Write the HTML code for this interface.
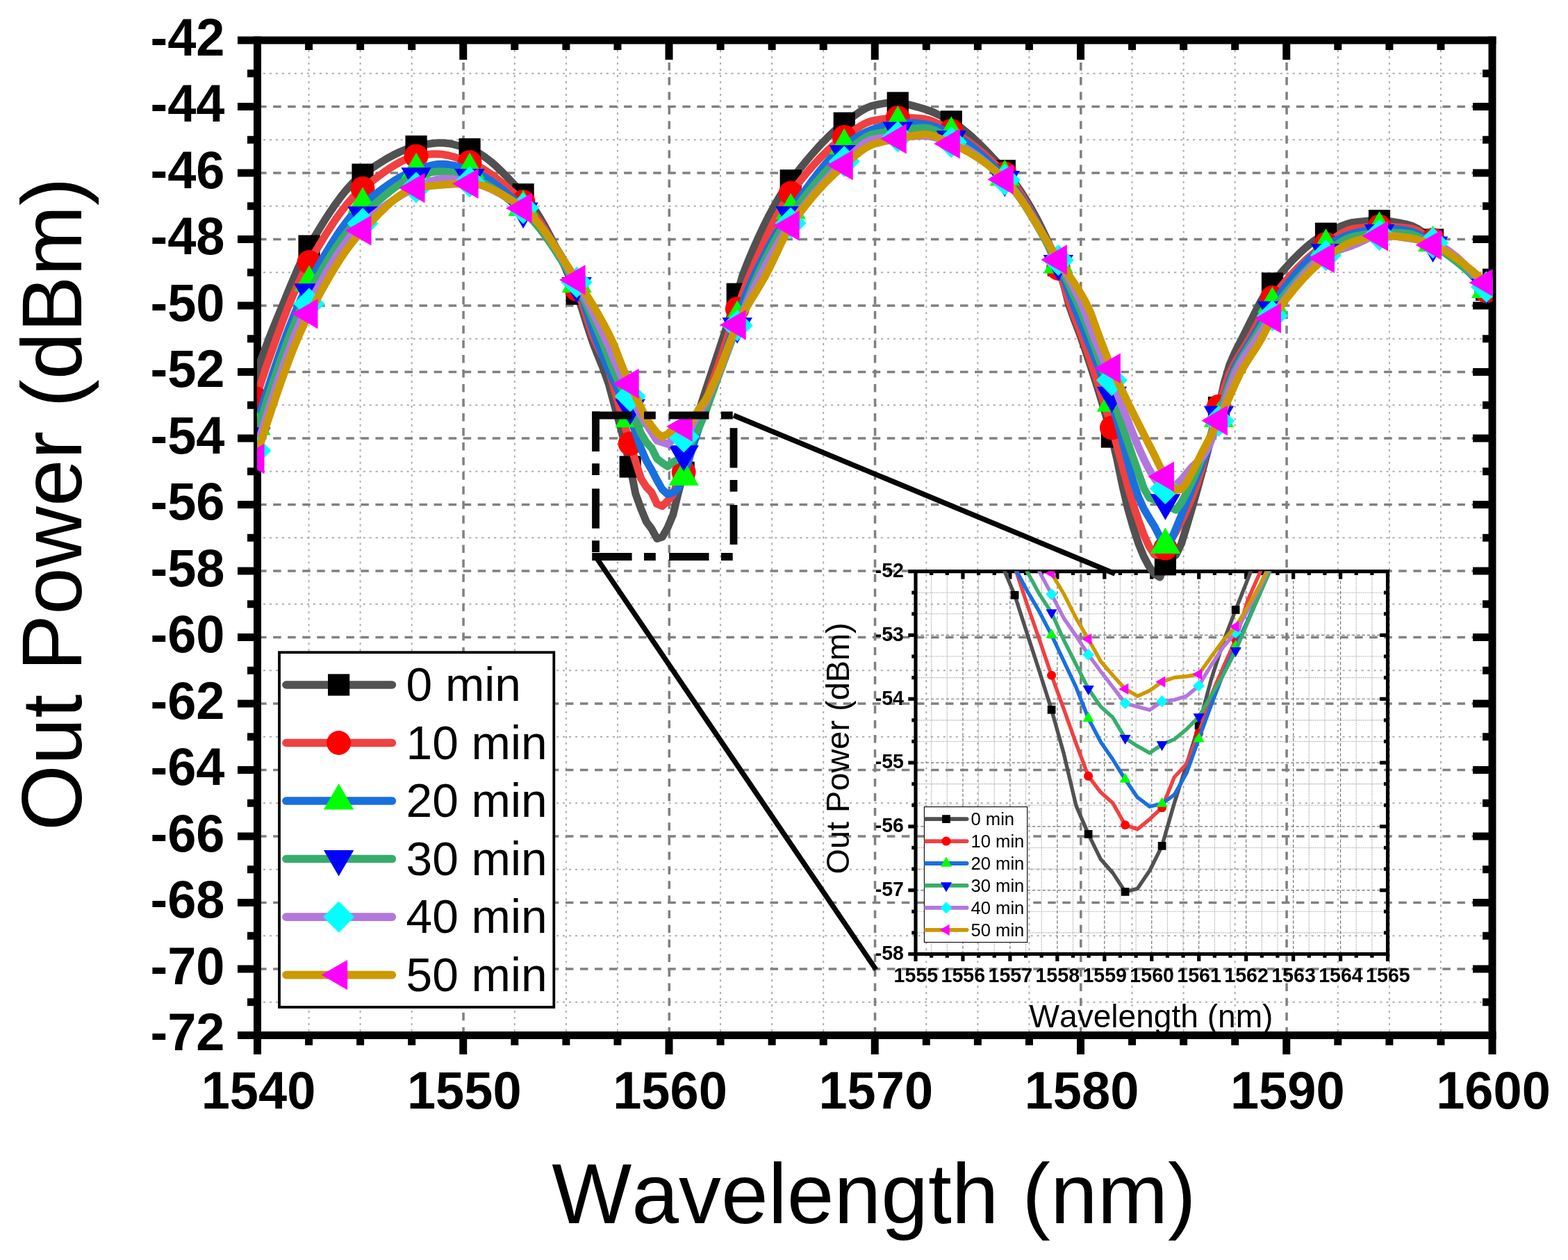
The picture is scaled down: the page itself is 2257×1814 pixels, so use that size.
<!DOCTYPE html>
<html lang="en">
<head>
<meta charset="utf-8">
<title>Out Power vs Wavelength</title>
<style>
html,body{margin:0;padding:0;background:#fff;}
body{width:2257px;height:1814px;overflow:hidden;}
svg{display:block;}
svg text{font-kerning:none;}
</style>
</head>
<body>
<svg xmlns="http://www.w3.org/2000/svg" width="2257" height="1814" viewBox="0 0 2257 1814" style="display:block">
<defs>
<clipPath id="cm"><rect x="370" y="58" width="1778.5" height="1432.5"/></clipPath>
<clipPath id="cl"><rect x="1330.4" y="1161.6" width="148.3" height="195"/></clipPath>
<clipPath id="ci"><rect x="1318" y="822.6" width="679.5" height="550.9"/></clipPath>
</defs>
<rect width="2257" height="1814" fill="#fff"/>
<g id="main-grid" fill="none">
<g stroke="#adadad" stroke-width="2" stroke-dasharray="3.1 5.88">
<path d="M370 1442.75H2148"/>
<path d="M370 1347.25H2148"/>
<path d="M370 1251.75H2148"/>
<path d="M370 1156.25H2148"/>
<path d="M370 1060.75H2148"/>
<path d="M370 965.25H2148"/>
<path d="M370 869.75H2148"/>
<path d="M370 774.25H2148"/>
<path d="M370 678.75H2148"/>
<path d="M370 583.25H2148"/>
<path d="M370 487.75H2148"/>
<path d="M370 392.25H2148"/>
<path d="M370 296.75H2148"/>
<path d="M370 201.25H2148"/>
<path d="M370 105.75H2148"/>
<path d="M444.56 58V1490.5" stroke-dashoffset="3.9"/>
<path d="M518.62 58V1490.5" stroke-dashoffset="3.9"/>
<path d="M592.69 58V1490.5" stroke-dashoffset="3.9"/>
<path d="M740.81 58V1490.5" stroke-dashoffset="3.9"/>
<path d="M814.88 58V1490.5" stroke-dashoffset="3.9"/>
<path d="M888.94 58V1490.5" stroke-dashoffset="3.9"/>
<path d="M1037.06 58V1490.5" stroke-dashoffset="3.9"/>
<path d="M1111.12 58V1490.5" stroke-dashoffset="3.9"/>
<path d="M1185.19 58V1490.5" stroke-dashoffset="3.9"/>
<path d="M1333.31 58V1490.5" stroke-dashoffset="3.9"/>
<path d="M1407.38 58V1490.5" stroke-dashoffset="3.9"/>
<path d="M1481.44 58V1490.5" stroke-dashoffset="3.9"/>
<path d="M1629.56 58V1490.5" stroke-dashoffset="3.9"/>
<path d="M1703.62 58V1490.5" stroke-dashoffset="3.9"/>
<path d="M1777.69 58V1490.5" stroke-dashoffset="3.9"/>
<path d="M1925.81 58V1490.5" stroke-dashoffset="3.9"/>
<path d="M1999.88 58V1490.5" stroke-dashoffset="3.9"/>
<path d="M2073.94 58V1490.5" stroke-dashoffset="3.9"/>
</g>
<g stroke="#808080" stroke-width="3.5" stroke-dasharray="11.5 9.54">
<path d="M351.06 1395H2148"/>
<path d="M351.06 1299.5H2148"/>
<path d="M351.06 1204H2148"/>
<path d="M351.06 1108.5H2148"/>
<path d="M351.06 1013H2148"/>
<path d="M351.06 917.5H2148"/>
<path d="M351.06 822H2148"/>
<path d="M351.06 726.5H2148"/>
<path d="M351.06 631H2148"/>
<path d="M351.06 535.5H2148"/>
<path d="M351.06 440H2148"/>
<path d="M351.06 344.5H2148"/>
<path d="M351.06 249H2148"/>
<path d="M351.06 153.5H2148"/>
<path d="M667.05 58V1490.5" stroke-dashoffset="10"/>
<path d="M963.3 58V1490.5" stroke-dashoffset="10"/>
<path d="M1259.55 58V1490.5" stroke-dashoffset="10"/>
<path d="M1555.8 58V1490.5" stroke-dashoffset="10"/>
<path d="M1852.05 58V1490.5" stroke-dashoffset="10"/>
</g>
</g>
<g id="main-axes" stroke="#000" stroke-width="11" fill="none">
<path d="M342 58H2153.5"/>
<path d="M342 1490.5H2153.5"/>
<path d="M370.5 52.5V1518"/>
<path d="M2148 52.5V1518"/>
<path d="M356 1442.75H370.5"/>
<path d="M2134 1442.75H2148"/>
<path d="M342 1395H370.5"/>
<path d="M2120 1395H2148"/>
<path d="M356 1347.25H370.5"/>
<path d="M2134 1347.25H2148"/>
<path d="M342 1299.5H370.5"/>
<path d="M2120 1299.5H2148"/>
<path d="M356 1251.75H370.5"/>
<path d="M2134 1251.75H2148"/>
<path d="M342 1204H370.5"/>
<path d="M2120 1204H2148"/>
<path d="M356 1156.25H370.5"/>
<path d="M2134 1156.25H2148"/>
<path d="M342 1108.5H370.5"/>
<path d="M2120 1108.5H2148"/>
<path d="M356 1060.75H370.5"/>
<path d="M2134 1060.75H2148"/>
<path d="M342 1013H370.5"/>
<path d="M2120 1013H2148"/>
<path d="M356 965.25H370.5"/>
<path d="M2134 965.25H2148"/>
<path d="M342 917.5H370.5"/>
<path d="M2120 917.5H2148"/>
<path d="M356 869.75H370.5"/>
<path d="M2134 869.75H2148"/>
<path d="M342 822H370.5"/>
<path d="M2120 822H2148"/>
<path d="M356 774.25H370.5"/>
<path d="M2134 774.25H2148"/>
<path d="M342 726.5H370.5"/>
<path d="M2120 726.5H2148"/>
<path d="M356 678.75H370.5"/>
<path d="M2134 678.75H2148"/>
<path d="M342 631H370.5"/>
<path d="M2120 631H2148"/>
<path d="M356 583.25H370.5"/>
<path d="M2134 583.25H2148"/>
<path d="M342 535.5H370.5"/>
<path d="M2120 535.5H2148"/>
<path d="M356 487.75H370.5"/>
<path d="M2134 487.75H2148"/>
<path d="M342 440H370.5"/>
<path d="M2120 440H2148"/>
<path d="M356 392.25H370.5"/>
<path d="M2134 392.25H2148"/>
<path d="M342 344.5H370.5"/>
<path d="M2120 344.5H2148"/>
<path d="M356 296.75H370.5"/>
<path d="M2134 296.75H2148"/>
<path d="M342 249H370.5"/>
<path d="M2120 249H2148"/>
<path d="M356 201.25H370.5"/>
<path d="M2134 201.25H2148"/>
<path d="M342 153.5H370.5"/>
<path d="M2120 153.5H2148"/>
<path d="M356 105.75H370.5"/>
<path d="M2134 105.75H2148"/>
<path d="M444.56 58V72"/>
<path d="M444.56 1490.5V1504.8"/>
<path d="M518.62 58V72"/>
<path d="M518.62 1490.5V1504.8"/>
<path d="M592.69 58V72"/>
<path d="M592.69 1490.5V1504.8"/>
<path d="M666.75 58V86"/>
<path d="M666.75 1490.5V1518"/>
<path d="M740.81 58V72"/>
<path d="M740.81 1490.5V1504.8"/>
<path d="M814.88 58V72"/>
<path d="M814.88 1490.5V1504.8"/>
<path d="M888.94 58V72"/>
<path d="M888.94 1490.5V1504.8"/>
<path d="M963 58V86"/>
<path d="M963 1490.5V1518"/>
<path d="M1037.06 58V72"/>
<path d="M1037.06 1490.5V1504.8"/>
<path d="M1111.12 58V72"/>
<path d="M1111.12 1490.5V1504.8"/>
<path d="M1185.19 58V72"/>
<path d="M1185.19 1490.5V1504.8"/>
<path d="M1259.25 58V86"/>
<path d="M1259.25 1490.5V1518"/>
<path d="M1333.31 58V72"/>
<path d="M1333.31 1490.5V1504.8"/>
<path d="M1407.38 58V72"/>
<path d="M1407.38 1490.5V1504.8"/>
<path d="M1481.44 58V72"/>
<path d="M1481.44 1490.5V1504.8"/>
<path d="M1555.5 58V86"/>
<path d="M1555.5 1490.5V1518"/>
<path d="M1629.56 58V72"/>
<path d="M1629.56 1490.5V1504.8"/>
<path d="M1703.62 58V72"/>
<path d="M1703.62 1490.5V1504.8"/>
<path d="M1777.69 58V72"/>
<path d="M1777.69 1490.5V1504.8"/>
<path d="M1851.75 58V86"/>
<path d="M1851.75 1490.5V1518"/>
<path d="M1925.81 58V72"/>
<path d="M1925.81 1490.5V1504.8"/>
<path d="M1999.88 58V72"/>
<path d="M1999.88 1490.5V1504.8"/>
<path d="M2073.94 58V72"/>
<path d="M2073.94 1490.5V1504.8"/>
</g>
<g id="main-labels" font-family="'Liberation Sans', Arial, Helvetica, sans-serif" fill="#000">
<g font-weight="bold" font-size="74" text-anchor="end">
<text transform="translate(323.5 79.6) scale(1 1.035)">-42</text>
<text transform="translate(323.5 175.1) scale(1 1.035)">-44</text>
<text transform="translate(323.5 270.6) scale(1 1.035)">-46</text>
<text transform="translate(323.5 366.1) scale(1 1.035)">-48</text>
<text transform="translate(323.5 461.6) scale(1 1.035)">-50</text>
<text transform="translate(323.5 557.1) scale(1 1.035)">-52</text>
<text transform="translate(323.5 652.6) scale(1 1.035)">-54</text>
<text transform="translate(323.5 748.1) scale(1 1.035)">-56</text>
<text transform="translate(323.5 843.6) scale(1 1.035)">-58</text>
<text transform="translate(323.5 939.1) scale(1 1.035)">-60</text>
<text transform="translate(323.5 1034.6) scale(1 1.035)">-62</text>
<text transform="translate(323.5 1130.1) scale(1 1.035)">-64</text>
<text transform="translate(323.5 1225.6) scale(1 1.035)">-66</text>
<text transform="translate(323.5 1321.1) scale(1 1.035)">-68</text>
<text transform="translate(323.5 1416.6) scale(1 1.035)">-70</text>
<text transform="translate(323.5 1512.1) scale(1 1.035)">-72</text>
</g>
<g font-weight="bold" font-size="74" text-anchor="middle">
<text transform="translate(372 1595.5) scale(1 1.035)">1540</text>
<text transform="translate(668.25 1595.5) scale(1 1.035)">1550</text>
<text transform="translate(964.5 1595.5) scale(1 1.035)">1560</text>
<text transform="translate(1260.75 1595.5) scale(1 1.035)">1570</text>
<text transform="translate(1557 1595.5) scale(1 1.035)">1580</text>
<text transform="translate(1853.25 1595.5) scale(1 1.035)">1590</text>
<text transform="translate(2149.5 1595.5) scale(1 1.035)">1600</text>
</g>
<text x="1258" y="1760.7" font-size="121.8" text-anchor="middle">Wavelength (nm)</text>
<text transform="translate(117.2 725.7) rotate(-90)" font-size="121.8" text-anchor="middle">Out Power (dBm)</text>
</g>
<g id="inset">
<g fill="none">
<g stroke="#9a9a9a" stroke-width="1.1" stroke-dasharray="1.25 1.4">
<path d="M1318 853.21H1997.5"/>
<path d="M1318 883.81H1997.5"/>
<path d="M1318 945.02H1997.5"/>
<path d="M1318 975.63H1997.5"/>
<path d="M1318 1036.84H1997.5"/>
<path d="M1318 1067.44H1997.5"/>
<path d="M1318 1128.66H1997.5"/>
<path d="M1318 1159.26H1997.5"/>
<path d="M1318 1220.47H1997.5"/>
<path d="M1318 1251.08H1997.5"/>
<path d="M1318 1312.29H1997.5"/>
<path d="M1318 1342.89H1997.5"/>
<path d="M1340.65 1373.5V822.6"/>
<path d="M1363.3 1373.5V822.6"/>
<path d="M1408.6 1373.5V822.6"/>
<path d="M1431.25 1373.5V822.6"/>
<path d="M1476.55 1373.5V822.6"/>
<path d="M1499.2 1373.5V822.6"/>
<path d="M1544.5 1373.5V822.6"/>
<path d="M1567.15 1373.5V822.6"/>
<path d="M1612.45 1373.5V822.6"/>
<path d="M1635.1 1373.5V822.6"/>
<path d="M1680.4 1373.5V822.6"/>
<path d="M1703.05 1373.5V822.6"/>
<path d="M1748.35 1373.5V822.6"/>
<path d="M1771 1373.5V822.6"/>
<path d="M1816.3 1373.5V822.6"/>
<path d="M1838.95 1373.5V822.6"/>
<path d="M1884.25 1373.5V822.6"/>
<path d="M1906.9 1373.5V822.6"/>
<path d="M1952.2 1373.5V822.6"/>
<path d="M1974.85 1373.5V822.6"/>
</g>
<g stroke="#707070" stroke-width="1.15" stroke-dasharray="4.4 2.9">
<path d="M1318 1281.68H1997.5"/>
<path d="M1318 1189.87H1997.5"/>
<path d="M1318 1098.05H1997.5"/>
<path d="M1318 1006.23H1997.5"/>
<path d="M1318 914.42H1997.5"/>
<path d="M1385.95 1373.5V822.6"/>
<path d="M1453.9 1373.5V822.6"/>
<path d="M1521.85 1373.5V822.6"/>
<path d="M1589.8 1373.5V822.6"/>
<path d="M1657.75 1373.5V822.6"/>
<path d="M1725.7 1373.5V822.6"/>
<path d="M1793.65 1373.5V822.6"/>
<path d="M1861.6 1373.5V822.6"/>
<path d="M1929.55 1373.5V822.6"/>
</g>
</g>
<g stroke="#000" stroke-width="5.2" fill="none">
<path d="M1307.3 822.6H2000.1"/>
<path d="M1307.3 1373.5H2000.1"/>
<path d="M1318 820V1383.9"/>
<path d="M1997.5 820V1383.9"/>
<path d="M1312.3 853.21H1318"/>
<path d="M1991.9 853.21H1997.5"/>
<path d="M1312.3 883.81H1318"/>
<path d="M1991.9 883.81H1997.5"/>
<path d="M1307.3 914.42H1318"/>
<path d="M1986 914.42H1997.5"/>
<path d="M1312.3 945.02H1318"/>
<path d="M1991.9 945.02H1997.5"/>
<path d="M1312.3 975.63H1318"/>
<path d="M1991.9 975.63H1997.5"/>
<path d="M1307.3 1006.23H1318"/>
<path d="M1986 1006.23H1997.5"/>
<path d="M1312.3 1036.84H1318"/>
<path d="M1991.9 1036.84H1997.5"/>
<path d="M1312.3 1067.44H1318"/>
<path d="M1991.9 1067.44H1997.5"/>
<path d="M1307.3 1098.05H1318"/>
<path d="M1986 1098.05H1997.5"/>
<path d="M1312.3 1128.66H1318"/>
<path d="M1991.9 1128.66H1997.5"/>
<path d="M1312.3 1159.26H1318"/>
<path d="M1991.9 1159.26H1997.5"/>
<path d="M1307.3 1189.87H1318"/>
<path d="M1986 1189.87H1997.5"/>
<path d="M1312.3 1220.47H1318"/>
<path d="M1991.9 1220.47H1997.5"/>
<path d="M1312.3 1251.08H1318"/>
<path d="M1991.9 1251.08H1997.5"/>
<path d="M1307.3 1281.68H1318"/>
<path d="M1986 1281.68H1997.5"/>
<path d="M1312.3 1312.29H1318"/>
<path d="M1991.9 1312.29H1997.5"/>
<path d="M1312.3 1342.89H1318"/>
<path d="M1991.9 1342.89H1997.5"/>
<path d="M1340.65 822.6V828"/>
<path d="M1340.65 1373.5V1378.8"/>
<path d="M1363.3 822.6V828"/>
<path d="M1363.3 1373.5V1378.8"/>
<path d="M1385.95 822.6V833.7"/>
<path d="M1385.95 1373.5V1383.9"/>
<path d="M1408.6 822.6V828"/>
<path d="M1408.6 1373.5V1378.8"/>
<path d="M1431.25 822.6V828"/>
<path d="M1431.25 1373.5V1378.8"/>
<path d="M1453.9 822.6V833.7"/>
<path d="M1453.9 1373.5V1383.9"/>
<path d="M1476.55 822.6V828"/>
<path d="M1476.55 1373.5V1378.8"/>
<path d="M1499.2 822.6V828"/>
<path d="M1499.2 1373.5V1378.8"/>
<path d="M1521.85 822.6V833.7"/>
<path d="M1521.85 1373.5V1383.9"/>
<path d="M1544.5 822.6V828"/>
<path d="M1544.5 1373.5V1378.8"/>
<path d="M1567.15 822.6V828"/>
<path d="M1567.15 1373.5V1378.8"/>
<path d="M1589.8 822.6V833.7"/>
<path d="M1589.8 1373.5V1383.9"/>
<path d="M1612.45 822.6V828"/>
<path d="M1612.45 1373.5V1378.8"/>
<path d="M1635.1 822.6V828"/>
<path d="M1635.1 1373.5V1378.8"/>
<path d="M1657.75 822.6V833.7"/>
<path d="M1657.75 1373.5V1383.9"/>
<path d="M1680.4 822.6V828"/>
<path d="M1680.4 1373.5V1378.8"/>
<path d="M1703.05 822.6V828"/>
<path d="M1703.05 1373.5V1378.8"/>
<path d="M1725.7 822.6V833.7"/>
<path d="M1725.7 1373.5V1383.9"/>
<path d="M1748.35 822.6V828"/>
<path d="M1748.35 1373.5V1378.8"/>
<path d="M1771 822.6V828"/>
<path d="M1771 1373.5V1378.8"/>
<path d="M1793.65 822.6V833.7"/>
<path d="M1793.65 1373.5V1383.9"/>
<path d="M1816.3 822.6V828"/>
<path d="M1816.3 1373.5V1378.8"/>
<path d="M1838.95 822.6V828"/>
<path d="M1838.95 1373.5V1378.8"/>
<path d="M1861.6 822.6V833.7"/>
<path d="M1861.6 1373.5V1383.9"/>
<path d="M1884.25 822.6V828"/>
<path d="M1884.25 1373.5V1378.8"/>
<path d="M1906.9 822.6V828"/>
<path d="M1906.9 1373.5V1378.8"/>
<path d="M1929.55 822.6V833.7"/>
<path d="M1929.55 1373.5V1383.9"/>
<path d="M1952.2 822.6V828"/>
<path d="M1952.2 1373.5V1378.8"/>
<path d="M1974.85 822.6V828"/>
<path d="M1974.85 1373.5V1378.8"/>
</g>
<g clip-path="url(#ci)">
<polyline points="1266.26,445.37 1283.93,474.86 1301.59,505.98 1319.26,538.48 1336.93,572.12 1354.59,606.66 1372.26,648.12 1389.93,696.05 1407.6,740.58 1425.26,778.34 1442.93,815.01 1460.6,856.76 1478.26,911.66 1495.93,965.83 1513.6,1021.84 1531.26,1085.1 1548.93,1159.93 1566.6,1200.88 1584.27,1236.88 1601.93,1256.89 1619.6,1283.89 1637.27,1279.3 1654.93,1253.22 1672.6,1217.87 1690.27,1156.35 1707.93,1100.8 1725.6,1044.52 1743.27,978.6 1760.94,924.06 1778.6,877.97 1796.27,833.16 1813.94,788.35 1831.6,743.73 1849.27,698.86 1866.94,653.32 1884.6,606.66 1902.27,554.93 1919.94,517.22 1937.61,482 1955.27,448.59 1972.94,417.12 1990.61,387.67 2008.27,360.35 2025.94,335.28 2043.61,312.55" fill="none" stroke="#515151" stroke-width="5.4" stroke-linejoin="round"/>
<rect x="1454.75" y="850.91" width="11.7" height="11.7" fill="#000000"/>
<rect x="1507.75" y="1015.99" width="11.7" height="11.7" fill="#000000"/>
<rect x="1560.75" y="1195.03" width="11.7" height="11.7" fill="#000000"/>
<rect x="1613.75" y="1278.04" width="11.7" height="11.7" fill="#000000"/>
<rect x="1666.75" y="1212.02" width="11.7" height="11.7" fill="#000000"/>
<rect x="1719.75" y="1038.67" width="11.7" height="11.7" fill="#000000"/>
<rect x="1772.75" y="872.12" width="11.7" height="11.7" fill="#000000"/>
<polyline points="1266.26,450.86 1283.93,476.67 1301.59,504.04 1319.26,532.77 1336.93,562.69 1354.59,593.59 1372.26,631.98 1389.93,678.1 1407.6,722.38 1425.26,755.91 1442.93,782.7 1460.6,816.17 1478.26,869.52 1495.93,920.38 1513.6,972.26 1531.26,1020.92 1548.93,1070.51 1566.6,1117.33 1584.27,1140.56 1601.93,1156.35 1619.6,1187.75 1637.27,1193.91 1654.93,1179.31 1672.6,1162.78 1690.27,1118.98 1707.93,1099.7 1725.6,1055.81 1743.27,1001.64 1760.94,960.33 1778.6,920.84 1796.27,863.46 1813.94,823.52 1831.6,780.16 1849.27,735.53 1866.94,691.01 1884.6,648 1902.27,606.12 1919.94,566.36 1937.61,531.35 1955.27,497.48 1972.94,464.26 1990.61,432.24 2008.27,401.99 2025.94,374.07 2043.61,349.04" fill="none" stroke="#F14040" stroke-width="5.4" stroke-linejoin="round"/>
<circle cx="1513.6" cy="972.26" r="6.52" fill="#FF0000"/>
<circle cx="1566.6" cy="1117.33" r="6.52" fill="#FF0000"/>
<circle cx="1619.6" cy="1187.75" r="6.52" fill="#FF0000"/>
<circle cx="1672.6" cy="1162.78" r="6.52" fill="#FF0000"/>
<circle cx="1725.6" cy="1055.81" r="6.52" fill="#FF0000"/>
<circle cx="1778.6" cy="920.84" r="6.52" fill="#FF0000"/>
<polyline points="1266.26,452.44 1283.93,474.7 1301.59,498.54 1319.26,523.9 1336.93,550.73 1354.59,578.97 1372.26,614.99 1389.93,659.9 1407.6,705.82 1425.26,745.67 1442.93,782.15 1460.6,816.95 1478.26,850.14 1495.93,880.44 1513.6,914.14 1531.26,951.88 1548.93,989.43 1566.6,1034.24 1584.27,1068.12 1601.93,1093.55 1619.6,1122.11 1637.27,1147.91 1654.93,1161.22 1672.6,1157.18 1690.27,1144.23 1707.93,1113.02 1725.6,1063.89 1743.27,1015.42 1760.94,969.51 1778.6,930.67 1796.27,892.56 1813.94,851.34 1831.6,806.79 1849.27,760.49 1866.94,714.84 1884.6,672.23 1902.27,632.62 1919.94,595.14 1937.61,560.95 1955.27,530.56 1972.94,501.44 1990.61,473.39 2008.27,446.59 2025.94,421.25 2043.61,397.56" fill="none" stroke="#1A6FDF" stroke-width="5.4" stroke-linejoin="round"/>
<polygon points="1513.6,904.77 1505.46,918.83 1521.73,918.83" fill="#00FF00"/>
<polygon points="1566.6,1024.86 1558.46,1038.92 1574.74,1038.92" fill="#00FF00"/>
<polygon points="1619.6,1112.73 1611.46,1126.79 1627.74,1126.79" fill="#00FF00"/>
<polygon points="1672.6,1147.8 1664.46,1161.87 1680.74,1161.87" fill="#00FF00"/>
<polygon points="1725.6,1054.52 1717.46,1068.58 1733.74,1068.58" fill="#00FF00"/>
<polygon points="1778.6,921.29 1770.46,935.36 1786.74,935.36" fill="#00FF00"/>
<polyline points="1266.26,464.61 1283.93,486.9 1301.59,510.25 1319.26,534.4 1336.93,559.12 1354.59,584.17 1372.26,611.49 1389.93,642.43 1407.6,675.85 1425.26,710.57 1442.93,746.05 1460.6,784.94 1478.26,822.6 1495.93,855.01 1513.6,881.91 1531.26,921.58 1548.93,956.74 1566.6,991.63 1584.27,1017.25 1601.93,1033.04 1619.6,1062.7 1637.27,1074.18 1654.93,1084.09 1672.6,1071.79 1690.27,1064.54 1707.93,1049.94 1725.6,1032.03 1743.27,1001.64 1760.94,971.34 1778.6,936.73 1796.27,894.95 1813.94,853.82 1831.6,813.71 1849.27,773.99 1866.94,734.79 1884.6,696.27 1902.27,657.6 1919.94,618.97 1937.61,582.03 1955.27,548.42 1972.94,517.7 1990.61,488.12 2008.27,460.03 2025.94,433.79 2043.61,409.73" fill="none" stroke="#37AD6B" stroke-width="5.4" stroke-linejoin="round"/>
<polygon points="1513.6,891.29 1505.46,877.23 1521.73,877.23" fill="#0000FF"/>
<polygon points="1566.6,1001.01 1558.46,986.95 1574.74,986.95" fill="#0000FF"/>
<polygon points="1619.6,1072.08 1611.46,1058.01 1627.74,1058.01" fill="#0000FF"/>
<polygon points="1672.6,1081.17 1664.46,1067.1 1680.74,1067.1" fill="#0000FF"/>
<polygon points="1725.6,1041.41 1717.46,1027.35 1733.74,1027.35" fill="#0000FF"/>
<polygon points="1778.6,946.1 1770.46,932.04 1786.74,932.04" fill="#0000FF"/>
<polyline points="1266.26,454.73 1283.93,477.5 1301.59,501.26 1319.26,525.61 1336.93,550.18 1354.59,574.55 1372.26,599.99 1389.93,627.69 1407.6,657.15 1425.26,687.9 1442.93,719.45 1460.6,752.18 1478.26,787.53 1495.93,822.6 1513.6,855.56 1531.26,890.09 1548.93,915.61 1566.6,942.42 1584.27,966.48 1601.93,989.43 1619.6,1012.48 1637.27,1017.34 1654.93,1022.12 1672.6,1009.72 1690.27,1007.61 1707.93,1002.19 1725.6,987.32 1743.27,957.94 1760.94,931.31 1778.6,910.74 1796.27,877.97 1813.94,845.28 1831.6,808.47 1849.27,769.49 1866.94,730.63 1884.6,694.15 1902.27,660.11 1919.94,627.16 1937.61,595.53 1955.27,565.42 1972.94,536.95 1990.61,509.06 2008.27,481.9 2025.94,456.04 2043.61,432.06" fill="none" stroke="#B177DE" stroke-width="5.4" stroke-linejoin="round"/>
<polygon points="1513.6,847.09 1522.07,855.56 1513.6,864.04 1505.12,855.56" fill="#00FFFF"/>
<polygon points="1566.6,933.95 1575.07,942.42 1566.6,950.9 1558.12,942.42" fill="#00FFFF"/>
<polygon points="1619.6,1004 1628.07,1012.48 1619.6,1020.95 1611.12,1012.48" fill="#00FFFF"/>
<polygon points="1672.6,1001.25 1681.08,1009.72 1672.6,1018.2 1664.13,1009.72" fill="#00FFFF"/>
<polygon points="1725.6,978.84 1734.08,987.32 1725.6,995.79 1717.13,987.32" fill="#00FFFF"/>
<polygon points="1778.6,902.27 1787.08,910.74 1778.6,919.22 1770.13,910.74" fill="#00FFFF"/>
<polyline points="1266.26,454.21 1283.93,476.41 1301.59,499.32 1319.26,522.49 1336.93,545.47 1354.59,567.82 1372.26,590.03 1389.93,613.03 1407.6,637.03 1425.26,662.25 1442.93,688.91 1460.6,717.21 1478.26,748.85 1495.93,787.88 1513.6,825.35 1531.26,855.01 1548.93,890.09 1566.6,920.2 1584.27,951.88 1601.93,972.44 1619.6,991.91 1637.27,1002.19 1654.93,994.3 1672.6,981.63 1690.27,975.47 1707.93,973.73 1725.6,970.7 1743.27,945.82 1760.94,921.58 1778.6,902.21 1796.27,873.1 1813.94,841.7 1831.6,805.03 1849.27,765.42 1866.94,726.59 1884.6,692.23 1902.27,663.26 1919.94,637.24 1937.61,612.84 1955.27,588.73 1972.94,563.58 1990.61,535.98 2008.27,504.98 2025.94,472.99 2043.61,442.96" fill="none" stroke="#CC9900" stroke-width="5.4" stroke-linejoin="round"/>
<polygon points="1504.22,825.35 1518.28,817.22 1518.28,833.49" fill="#FF00FF"/>
<polygon points="1557.22,920.2 1571.29,912.06 1571.29,928.34" fill="#FF00FF"/>
<polygon points="1610.22,991.91 1624.29,983.77 1624.29,1000.05" fill="#FF00FF"/>
<polygon points="1663.23,981.63 1677.29,973.49 1677.29,989.76" fill="#FF00FF"/>
<polygon points="1716.23,970.7 1730.29,962.56 1730.29,978.84" fill="#FF00FF"/>
<polygon points="1769.23,902.21 1783.29,894.07 1783.29,910.34" fill="#FF00FF"/>
</g>
<g font-family="'Liberation Sans', Arial, Helvetica, sans-serif" fill="#000">
<g font-weight="bold" font-size="28.6" text-anchor="end">
<text transform="translate(1301 831) scale(1 1.035)">-52</text>
<text transform="translate(1301 922.82) scale(1 1.035)">-53</text>
<text transform="translate(1301 1014.63) scale(1 1.035)">-54</text>
<text transform="translate(1301 1106.45) scale(1 1.035)">-55</text>
<text transform="translate(1301 1198.27) scale(1 1.035)">-56</text>
<text transform="translate(1301 1290.08) scale(1 1.035)">-57</text>
<text transform="translate(1301 1381.9) scale(1 1.035)">-58</text>
</g>
<g font-weight="bold" font-size="28.6" text-anchor="middle">
<text transform="translate(1318.4 1413.8) scale(1 1.035)">1555</text>
<text transform="translate(1386.35 1413.8) scale(1 1.035)">1556</text>
<text transform="translate(1454.3 1413.8) scale(1 1.035)">1557</text>
<text transform="translate(1522.25 1413.8) scale(1 1.035)">1558</text>
<text transform="translate(1590.2 1413.8) scale(1 1.035)">1559</text>
<text transform="translate(1658.15 1413.8) scale(1 1.035)">1560</text>
<text transform="translate(1726.1 1413.8) scale(1 1.035)">1561</text>
<text transform="translate(1794.05 1413.8) scale(1 1.035)">1562</text>
<text transform="translate(1862 1413.8) scale(1 1.035)">1563</text>
<text transform="translate(1929.95 1413.8) scale(1 1.035)">1564</text>
<text transform="translate(1997.9 1413.8) scale(1 1.035)">1565</text>
</g>
<text x="1657" y="1479.2" font-size="46.1" text-anchor="middle">Wavelength (nm)</text>
<text transform="translate(1221.8 1077.4) rotate(-90)" font-size="46.9" text-anchor="middle">Out Power (dBm)</text>
</g>
<g id="inset-legend" font-family="'Liberation Sans', Arial, Helvetica, sans-serif">
<rect x="1330.4" y="1161.6" width="148.3" height="195" fill="#fff" stroke="#000" stroke-width="1.1"/>
<path d="M1329 1179.1H1391.6" stroke="#515151" stroke-width="5.8" stroke-linecap="round" fill="none" clip-path="url(#cl)"/>
<rect x="1356.15" y="1173.25" width="11.7" height="11.7" fill="#000000"/>
<text x="1397.5" y="1188" font-size="25.6" fill="#000">0 min</text>
<path d="M1329 1211.05H1391.6" stroke="#F14040" stroke-width="5.8" stroke-linecap="round" fill="none" clip-path="url(#cl)"/>
<circle cx="1362" cy="1211.05" r="6.52" fill="#FF0000"/>
<text x="1397.5" y="1219.95" font-size="25.6" fill="#000">10 min</text>
<path d="M1329 1243H1391.6" stroke="#1A6FDF" stroke-width="5.8" stroke-linecap="round" fill="none" clip-path="url(#cl)"/>
<polygon points="1362,1233.62 1353.86,1247.69 1370.14,1247.69" fill="#00FF00"/>
<text x="1397.5" y="1251.9" font-size="25.6" fill="#000">20 min</text>
<path d="M1329 1274.95H1391.6" stroke="#37AD6B" stroke-width="5.8" stroke-linecap="round" fill="none" clip-path="url(#cl)"/>
<polygon points="1362,1284.32 1353.86,1270.26 1370.14,1270.26" fill="#0000FF"/>
<text x="1397.5" y="1283.85" font-size="25.6" fill="#000">30 min</text>
<path d="M1329 1306.9H1391.6" stroke="#B177DE" stroke-width="5.8" stroke-linecap="round" fill="none" clip-path="url(#cl)"/>
<polygon points="1362,1298.42 1370.47,1306.9 1362,1315.37 1353.53,1306.9" fill="#00FFFF"/>
<text x="1397.5" y="1315.8" font-size="25.6" fill="#000">40 min</text>
<path d="M1329 1338.85H1391.6" stroke="#CC9900" stroke-width="5.8" stroke-linecap="round" fill="none" clip-path="url(#cl)"/>
<polygon points="1352.62,1338.85 1366.69,1330.71 1366.69,1346.99" fill="#FF00FF"/>
<text x="1397.5" y="1347.75" font-size="25.6" fill="#000">50 min</text>
</g>
</g>
<g id="main-data" clip-path="url(#cm)">
<polyline points="352.58,582.35 367.98,539.5 375.68,518.07 383.39,497.41 391.09,477.57 398.79,458.59 406.49,440.03 414.2,421.17 421.9,402.55 429.6,384.78 437.3,368.43 445.01,354.1 452.71,341.07 460.41,328.31 468.11,315.95 475.82,304.12 483.52,292.94 491.22,282.53 498.92,273.03 506.63,264.55 514.33,257.24 522.03,251.2 529.73,245.88 537.44,240.67 545.14,235.63 552.84,230.83 560.54,226.33 568.25,222.21 575.95,218.51 583.65,215.32 591.35,212.7 599.06,210.7 606.76,209.07 614.46,207.61 622.16,206.45 629.87,205.74 637.57,205.66 645.27,206.45 652.97,207.95 660.68,209.97 668.38,212.29 676.08,214.7 683.78,217.7 691.49,221.83 699.19,226.97 706.89,232.97 714.59,239.72 722.3,247.06 730,254.88 737.7,263.03 745.4,271.38 753.11,279.8 760.81,288.99 768.51,299.67 776.21,311.7 783.92,324.96 791.62,339.32 799.32,354.65 807.02,370.84 814.73,387.74 822.43,405.24 830.13,423.2 837.83,444.76 845.54,469.69 853.24,492.85 860.94,512.48 868.64,531.55 876.35,553.26 884.05,581.82 891.75,609.99 899.45,639.12 907.16,672.02 914.86,710.93 922.56,732.23 930.26,750.95 937.97,761.36 945.67,775.4 953.37,773.01 961.07,759.45 968.78,741.06 976.48,709.07 984.18,680.18 991.88,650.91 999.59,616.63 1007.29,588.26 1014.99,564.29 1022.69,540.99 1030.4,517.69 1038.1,494.48 1045.8,471.15 1053.5,447.46 1061.21,423.2 1068.91,396.3 1076.61,376.68 1084.31,358.37 1092.02,340.99 1099.72,324.62 1107.42,309.31 1115.12,295.1 1122.83,282.07 1130.53,270.25 1138.23,259.7 1145.93,249.88 1153.64,240.25 1161.34,230.86 1169.04,221.78 1176.74,213.07 1184.45,204.79 1192.15,197 1199.85,189.76 1207.55,183.14 1215.26,177.2 1222.96,171.5 1230.66,165.81 1238.36,160.54 1246.07,156.06 1253.77,152.77 1261.47,150.86 1269.17,149.35 1276.88,148.24 1284.58,147.72 1292.28,148 1299.98,149.05 1307.69,150.63 1315.39,152.59 1323.09,154.77 1330.79,157.03 1338.5,159.69 1346.2,162.94 1353.9,166.64 1361.6,170.67 1369.31,174.9 1377.01,179.6 1384.71,185.06 1392.41,191.21 1400.12,197.95 1407.82,205.19 1415.52,212.83 1423.22,220.8 1430.93,228.99 1438.63,237.32 1446.33,245.7 1454.03,254.61 1461.74,264.59 1469.44,275.64 1477.14,287.74 1484.84,300.88 1492.55,315.07 1500.25,330.28 1507.95,346.51 1515.65,363.75 1523.36,382 1531.06,409.14 1538.76,439.24 1546.46,460.79 1554.17,480.64 1561.87,503.07 1569.57,526.21 1577.27,550.08 1584.98,574.97 1592.68,601.18 1600.38,629 1608.08,662.34 1615.79,699.48 1623.49,732.27 1631.19,759.16 1638.89,782.88 1646.6,801.71 1654.3,816.05 1662,826.43 1669.7,830.95 1677.41,812.8 1685.11,804.45 1692.81,798.55 1700.51,782.57 1708.22,757.35 1715.92,731.25 1723.62,704.03 1731.32,675.83 1739.03,646.76 1746.73,616.98 1754.43,586.6 1762.13,551.02 1769.84,525.2 1777.54,507.36 1785.24,492.14 1792.94,477.06 1800.65,461.53 1808.35,446.19 1816.05,431.7 1823.75,418.75 1831.46,408 1839.16,398.7 1846.86,389.7 1854.56,381.06 1862.27,372.85 1869.97,365.14 1877.67,357.98 1885.37,351.44 1893.08,345.59 1900.78,340.49 1908.48,336.2 1916.18,332.31 1923.89,328.51 1931.59,325.1 1939.29,322.32 1946.99,320.44 1954.7,319.45 1962.4,318.64 1970.1,318.02 1977.8,317.65 1985.51,317.6 1993.21,317.96 2000.91,318.74 2008.61,319.87 2016.32,321.28 2024.02,322.9 2031.72,325.02 2039.42,328.73 2047.13,333.67 2054.83,339.28 2062.53,345 2070.23,350.82 2077.94,357.06 2085.64,363.68 2093.34,370.64 2101.04,377.91 2108.75,385.44 2116.45,393.19 2124.15,401.12 2131.85,409.21 2139.56,417.4" fill="none" stroke="#515151" stroke-width="11" stroke-linejoin="round"/>
<rect x="429.41" y="338.5" width="31.2" height="31.2" fill="#000000"/>
<rect x="506.43" y="235.6" width="31.2" height="31.2" fill="#000000"/>
<rect x="583.46" y="195.1" width="31.2" height="31.2" fill="#000000"/>
<rect x="660.48" y="199.1" width="31.2" height="31.2" fill="#000000"/>
<rect x="737.51" y="264.2" width="31.2" height="31.2" fill="#000000"/>
<rect x="814.53" y="407.6" width="31.2" height="31.2" fill="#000000"/>
<rect x="891.56" y="656.42" width="31.2" height="31.2" fill="#000000"/>
<rect x="968.58" y="664.58" width="31.2" height="31.2" fill="#000000"/>
<rect x="1045.61" y="407.6" width="31.2" height="31.2" fill="#000000"/>
<rect x="1122.63" y="244.1" width="31.2" height="31.2" fill="#000000"/>
<rect x="1199.66" y="161.6" width="31.2" height="31.2" fill="#000000"/>
<rect x="1276.68" y="132.4" width="31.2" height="31.2" fill="#000000"/>
<rect x="1353.71" y="159.3" width="31.2" height="31.2" fill="#000000"/>
<rect x="1430.73" y="230.1" width="31.2" height="31.2" fill="#000000"/>
<rect x="1507.76" y="366.4" width="31.2" height="31.2" fill="#000000"/>
<rect x="1584.78" y="613.4" width="31.2" height="31.2" fill="#000000"/>
<rect x="1661.81" y="797.2" width="31.2" height="31.2" fill="#000000"/>
<rect x="1738.83" y="571" width="31.2" height="31.2" fill="#000000"/>
<rect x="1815.86" y="392.4" width="31.2" height="31.2" fill="#000000"/>
<rect x="1892.88" y="320.6" width="31.2" height="31.2" fill="#000000"/>
<rect x="1969.91" y="302" width="31.2" height="31.2" fill="#000000"/>
<rect x="2046.93" y="329.4" width="31.2" height="31.2" fill="#000000"/>
<rect x="2123.96" y="401.8" width="31.2" height="31.2" fill="#000000"/>
<polyline points="352.58,619.14 367.98,573.5 375.68,550.68 383.39,528.08 391.09,505.88 398.79,484.28 406.49,463.46 414.2,443.6 421.9,424.89 429.6,407.51 437.3,391.65 445.01,377.5 452.71,364.34 460.41,351.41 468.11,338.84 475.82,326.75 483.52,315.27 491.22,304.52 498.92,294.62 506.63,285.7 514.33,277.89 522.03,271.3 529.73,265.33 537.44,259.35 545.14,253.48 552.84,247.83 560.54,242.51 568.25,237.64 575.95,233.33 583.65,229.7 591.35,226.85 599.06,224.9 606.76,223.54 614.46,222.46 622.16,221.81 629.87,221.72 637.57,222.34 645.27,223.72 652.97,225.72 660.68,228.17 668.38,230.88 676.08,233.7 683.78,236.93 691.49,240.92 699.19,245.61 706.89,250.91 714.59,256.73 722.3,262.98 730,269.59 737.7,276.47 745.4,283.53 753.11,290.7 760.81,298.58 768.51,307.76 776.21,318.16 783.92,329.66 791.62,342.17 799.32,355.59 807.02,369.83 814.73,384.77 822.43,400.33 830.13,416.4 837.83,436.36 845.54,460.35 853.24,483.38 860.94,500.82 868.64,514.75 876.35,532.16 884.05,559.9 891.75,586.35 899.45,613.33 907.16,638.64 914.86,664.43 922.56,688.78 930.26,700.86 937.97,709.07 945.67,725.4 953.37,728.6 961.07,721.01 968.78,712.41 976.48,689.64 984.18,679.61 991.88,656.78 999.59,628.61 1007.29,607.12 1014.99,586.59 1022.69,556.75 1030.4,535.98 1038.1,513.43 1045.8,490.22 1053.5,467.07 1061.21,444.7 1068.91,422.92 1076.61,402.24 1084.31,384.03 1092.02,366.42 1099.72,349.14 1107.42,332.49 1115.12,316.76 1122.83,302.24 1130.53,289.22 1138.23,278 1145.93,267.93 1153.64,258.19 1161.34,248.83 1169.04,239.89 1176.74,231.41 1184.45,223.42 1192.15,215.98 1199.85,209.12 1207.55,202.88 1215.26,197.3 1222.96,191.92 1230.66,186.53 1238.36,181.54 1246.07,177.35 1253.77,174.39 1261.47,172.84 1269.17,171.64 1276.88,170.63 1284.58,169.9 1292.28,169.5 1299.98,169.42 1307.69,169.57 1315.39,169.94 1323.09,170.51 1330.79,171.29 1338.5,173.08 1346.2,176.11 1353.9,179.94 1361.6,184.15 1369.31,188.3 1377.01,192.55 1384.71,197.32 1392.41,202.59 1400.12,208.31 1407.82,214.45 1415.52,220.96 1423.22,227.81 1430.93,234.96 1438.63,242.37 1446.33,250 1454.03,258.48 1461.74,268.41 1469.44,279.66 1477.14,292.14 1484.84,305.73 1492.55,320.32 1500.25,335.8 1507.95,352.06 1515.65,369 1523.36,386.5 1531.06,408.86 1538.76,434.23 1546.46,455.45 1554.17,475.01 1561.87,496.31 1569.57,518.92 1577.27,542.26 1584.98,566.25 1592.68,590.82 1600.38,615.9 1608.08,642.78 1615.79,671.47 1623.49,700.02 1631.19,726.44 1638.89,749.36 1646.6,770.22 1654.3,787.24 1662,798.76 1669.7,798.93 1677.41,789.4 1685.11,778.29 1692.81,765.3 1700.51,750.5 1708.22,733.94 1715.92,715.68 1723.62,694.78 1731.32,669.07 1739.03,640.64 1746.73,611.88 1754.43,585.2 1762.13,559.77 1769.84,537.64 1777.54,522.06 1785.24,508.98 1792.94,496.63 1800.65,483.38 1808.35,468.78 1816.05,453.97 1823.75,440.15 1831.46,428.5 1839.16,418.58 1846.86,409.12 1854.56,400.13 1862.27,391.63 1869.97,383.63 1877.67,376.12 1885.37,369.13 1893.08,362.65 1900.78,356.71 1908.48,351.3 1916.18,345.98 1923.89,340.64 1931.59,335.76 1939.29,331.85 1946.99,329.38 1954.7,328.35 1962.4,327.53 1970.1,326.88 1977.8,326.42 1985.51,326.2 1993.21,326.21 2000.91,326.41 2008.61,326.78 2016.32,327.29 2024.02,327.92 2031.72,329 2039.42,331.74 2047.13,335.75 2054.83,340.49 2062.53,345.4 2070.23,350.58 2077.94,356.44 2085.64,362.91 2093.34,369.91 2101.04,377.36 2108.75,385.2 2116.45,393.35 2124.15,401.73 2131.85,410.27 2139.56,418.9" fill="none" stroke="#F14040" stroke-width="11" stroke-linejoin="round"/>
<circle cx="367.98" cy="573.5" r="17.4" fill="#FF0000"/>
<circle cx="445.01" cy="377.5" r="17.4" fill="#FF0000"/>
<circle cx="522.03" cy="271.3" r="17.4" fill="#FF0000"/>
<circle cx="599.06" cy="224.9" r="17.4" fill="#FF0000"/>
<circle cx="676.08" cy="233.7" r="17.4" fill="#FF0000"/>
<circle cx="753.11" cy="290.7" r="17.4" fill="#FF0000"/>
<circle cx="830.13" cy="416.4" r="17.4" fill="#FF0000"/>
<circle cx="907.16" cy="638.64" r="17.4" fill="#FF0000"/>
<circle cx="984.18" cy="679.61" r="17.4" fill="#FF0000"/>
<circle cx="1061.21" cy="444.7" r="17.4" fill="#FF0000"/>
<circle cx="1138.23" cy="278" r="17.4" fill="#FF0000"/>
<circle cx="1215.26" cy="197.3" r="17.4" fill="#FF0000"/>
<circle cx="1292.28" cy="169.5" r="17.4" fill="#FF0000"/>
<circle cx="1369.31" cy="188.3" r="17.4" fill="#FF0000"/>
<circle cx="1446.33" cy="250" r="17.4" fill="#FF0000"/>
<circle cx="1523.36" cy="386.5" r="17.4" fill="#FF0000"/>
<circle cx="1600.38" cy="615.9" r="17.4" fill="#FF0000"/>
<circle cx="1677.41" cy="789.4" r="17.4" fill="#FF0000"/>
<circle cx="1754.43" cy="585.2" r="17.4" fill="#FF0000"/>
<circle cx="1831.46" cy="428.5" r="17.4" fill="#FF0000"/>
<circle cx="1908.48" cy="351.3" r="17.4" fill="#FF0000"/>
<circle cx="1985.51" cy="326.2" r="17.4" fill="#FF0000"/>
<circle cx="2062.53" cy="345.4" r="17.4" fill="#FF0000"/>
<circle cx="2139.56" cy="418.9" r="17.4" fill="#FF0000"/>
<polyline points="352.58,661.82 367.98,613.7 375.68,589.64 383.39,565.82 391.09,542.42 398.79,519.65 406.49,497.69 414.2,476.75 421.9,457 429.6,438.65 437.3,421.88 445.01,406.9 452.71,392.94 460.41,379.22 468.11,365.87 475.82,353.02 483.52,340.81 491.22,329.39 498.92,318.88 506.63,309.42 514.33,301.15 522.03,294.2 529.73,287.98 537.44,281.85 545.14,275.89 552.84,270.16 560.54,264.73 568.25,259.68 575.95,255.08 583.65,251 591.35,247.52 599.06,244.7 606.76,242.2 614.46,239.82 622.16,237.83 629.87,236.53 637.57,236.19 645.27,236.81 652.97,238.18 660.68,240.1 668.38,242.34 676.08,244.7 683.78,247.52 691.49,251.19 699.19,255.62 706.89,260.69 714.59,266.28 722.3,272.3 730,278.64 737.7,285.17 745.4,291.79 753.11,298.4 760.81,305.45 768.51,313.47 776.21,322.41 783.92,332.26 791.62,342.99 799.32,354.57 807.02,366.97 814.73,380.16 822.43,394.11 830.13,408.8 837.83,427.53 845.54,450.88 853.24,474.77 860.94,495.49 868.64,514.47 876.35,532.56 884.05,549.82 891.75,565.58 899.45,583.11 907.16,602.73 914.86,622.26 922.56,645.56 930.26,663.18 937.97,676.41 945.67,691.26 953.37,704.68 961.07,711.6 968.78,709.5 976.48,702.77 984.18,686.53 991.88,660.99 999.59,635.78 1007.29,611.9 1014.99,591.7 1022.69,571.89 1030.4,550.45 1038.1,527.28 1045.8,503.2 1053.5,479.46 1061.21,457.3 1068.91,436.7 1076.61,417.21 1084.31,399.43 1092.02,383.62 1099.72,368.48 1107.42,353.89 1115.12,339.95 1122.83,326.78 1130.53,314.46 1138.23,303.1 1145.93,292.22 1153.64,281.34 1161.34,270.59 1169.04,260.11 1176.74,250.01 1184.45,240.42 1192.15,231.48 1199.85,223.31 1207.55,216.04 1215.26,209.8 1222.96,204.25 1230.66,199.06 1238.36,194.36 1246.07,190.3 1253.77,187.01 1261.47,184.5 1269.17,182.11 1276.88,179.95 1284.58,178.24 1292.28,177.2 1299.98,176.79 1307.69,176.78 1315.39,177.12 1323.09,177.74 1330.79,178.6 1338.5,180.16 1346.2,182.59 1353.9,185.62 1361.6,189.01 1369.31,192.5 1377.01,196.34 1384.71,200.91 1392.41,206.13 1400.12,211.94 1407.82,218.26 1415.52,225.02 1423.22,232.15 1430.93,239.57 1438.63,247.21 1446.33,255 1454.03,263.45 1461.74,273.06 1469.44,283.74 1477.14,295.4 1484.84,307.95 1492.55,321.3 1500.25,335.38 1507.95,350.08 1515.65,365.31 1523.36,381 1531.06,399.4 1538.76,420.64 1546.46,441.44 1554.17,460.85 1561.87,480.13 1569.57,499.61 1577.27,518.83 1584.98,538.26 1592.68,558.51 1600.38,580.2 1608.08,605.66 1615.79,634.89 1623.49,664.99 1631.19,693.05 1638.89,716.18 1646.6,732.75 1654.3,745.82 1662,758.15 1669.7,773.39 1677.41,784.6 1685.11,778.25 1692.81,760.64 1700.51,741.74 1708.22,722.8 1715.92,703.08 1723.62,683.75 1731.32,664.39 1739.03,644.64 1746.73,624.13 1754.43,602.5 1762.13,576.04 1769.84,548.26 1777.54,528.69 1785.24,514.46 1792.94,502.12 1800.65,489.88 1808.35,476.46 1816.05,462.63 1823.75,449.4 1831.46,437.8 1839.16,427.4 1846.86,417.17 1854.56,407.22 1862.27,397.64 1869.97,388.55 1877.67,380.05 1885.37,372.23 1893.08,365.22 1900.78,359.11 1908.48,354 1916.18,349.55 1923.89,345.42 1931.59,341.74 1939.29,338.64 1946.99,336.26 1954.7,334.48 1962.4,332.79 1970.1,331.28 1977.8,330.07 1985.51,329.3 1993.21,329.04 2000.91,329.21 2008.61,329.75 2016.32,330.61 2024.02,331.71 2031.72,333.27 2039.42,336.24 2047.13,340.28 2054.83,344.96 2062.53,349.8 2070.23,354.84 2077.94,360.39 2085.64,366.38 2093.34,372.77 2101.04,379.5 2108.75,386.53 2116.45,393.81 2124.15,401.28 2131.85,408.89 2139.56,416.6" fill="none" stroke="#1A6FDF" stroke-width="11" stroke-linejoin="round"/>
<polygon points="367.98,588.7 346.28,626.2 389.68,626.2" fill="#00FF00"/>
<polygon points="445.01,381.9 423.31,419.4 466.71,419.4" fill="#00FF00"/>
<polygon points="522.03,269.2 500.33,306.7 543.73,306.7" fill="#00FF00"/>
<polygon points="599.06,219.7 577.36,257.2 620.76,257.2" fill="#00FF00"/>
<polygon points="676.08,219.7 654.38,257.2 697.78,257.2" fill="#00FF00"/>
<polygon points="753.11,273.4 731.41,310.9 774.81,310.9" fill="#00FF00"/>
<polygon points="830.13,383.8 808.43,421.3 851.83,421.3" fill="#00FF00"/>
<polygon points="907.16,577.73 885.46,615.23 928.86,615.23" fill="#00FF00"/>
<polygon points="984.18,661.53 962.48,699.03 1005.88,699.03" fill="#00FF00"/>
<polygon points="1061.21,432.3 1039.51,469.8 1082.91,469.8" fill="#00FF00"/>
<polygon points="1138.23,278.1 1116.53,315.6 1159.93,315.6" fill="#00FF00"/>
<polygon points="1215.26,184.8 1193.56,222.3 1236.96,222.3" fill="#00FF00"/>
<polygon points="1292.28,152.2 1270.58,189.7 1313.98,189.7" fill="#00FF00"/>
<polygon points="1369.31,167.5 1347.61,205 1391.01,205" fill="#00FF00"/>
<polygon points="1446.33,230 1424.63,267.5 1468.03,267.5" fill="#00FF00"/>
<polygon points="1523.36,356 1501.66,393.5 1545.06,393.5" fill="#00FF00"/>
<polygon points="1600.38,555.2 1578.68,592.7 1622.08,592.7" fill="#00FF00"/>
<polygon points="1677.41,759.6 1655.71,797.1 1699.11,797.1" fill="#00FF00"/>
<polygon points="1754.43,577.5 1732.73,615 1776.13,615" fill="#00FF00"/>
<polygon points="1831.46,412.8 1809.76,450.3 1853.16,450.3" fill="#00FF00"/>
<polygon points="1908.48,329 1886.78,366.5 1930.18,366.5" fill="#00FF00"/>
<polygon points="1985.51,304.3 1963.81,341.8 2007.21,341.8" fill="#00FF00"/>
<polygon points="2062.53,324.8 2040.83,362.3 2084.23,362.3" fill="#00FF00"/>
<polygon points="2139.56,391.6 2117.86,429.1 2161.26,429.1" fill="#00FF00"/>
<polyline points="352.58,676.12 367.98,627.8 375.68,603.64 383.39,579.71 391.09,556.2 398.79,533.32 406.49,511.27 414.2,490.26 421.9,470.5 429.6,452.18 437.3,435.51 445.01,420.7 452.71,407.02 460.41,393.67 468.11,380.74 475.82,368.32 483.52,356.51 491.22,345.4 498.92,335.07 506.63,325.61 514.33,317.13 522.03,309.7 529.73,302.77 537.44,295.81 545.14,288.93 552.84,282.26 560.54,275.94 568.25,270.07 575.95,264.79 583.65,260.22 591.35,256.48 599.06,253.7 606.76,251.45 614.46,249.39 622.16,247.79 629.87,246.89 637.57,246.93 645.27,247.78 652.97,249.21 660.68,251.07 668.38,253.19 676.08,255.4 683.78,257.98 691.49,261.25 699.19,265.15 706.89,269.61 714.59,274.55 722.3,279.9 730,285.59 737.7,291.55 745.4,297.71 753.11,304 760.81,310.96 768.51,319.1 776.21,328.29 783.92,338.41 791.62,349.32 799.32,360.92 807.02,373.06 814.73,385.62 822.43,398.48 830.13,411.5 837.83,425.71 845.54,441.8 853.24,459.18 860.94,477.24 868.64,495.69 876.35,515.92 884.05,535.5 891.75,552.36 899.45,566.35 907.16,586.97 914.86,605.26 922.56,623.41 930.26,636.73 937.97,644.94 945.67,660.37 953.37,666.34 961.07,671.49 968.78,665.09 976.48,661.32 984.18,653.73 991.88,644.42 999.59,628.61 1007.29,612.85 1014.99,594.85 1022.69,573.13 1030.4,551.74 1038.1,530.88 1045.8,510.22 1053.5,489.83 1061.21,469.8 1068.91,449.69 1076.61,429.6 1084.31,410.39 1092.02,392.91 1099.72,376.94 1107.42,361.55 1115.12,346.94 1122.83,333.3 1130.53,320.79 1138.23,309.6 1145.93,299.23 1153.64,289.06 1161.34,279.16 1169.04,269.58 1176.74,260.35 1184.45,251.55 1192.15,243.21 1199.85,235.39 1207.55,228.13 1215.26,221.5 1222.96,215.02 1230.66,208.51 1238.36,202.5 1246.07,197.47 1253.77,193.95 1261.47,192.16 1269.17,190.88 1276.88,189.79 1284.58,188.83 1292.28,187.9 1299.98,186.92 1307.69,185.92 1315.39,185.01 1323.09,184.33 1330.79,183.99 1338.5,185.14 1346.2,188.01 1353.9,191.97 1361.6,196.38 1369.31,200.6 1377.01,204.7 1384.71,209.19 1392.41,214.06 1400.12,219.31 1407.82,224.93 1415.52,230.92 1423.22,237.26 1430.93,243.96 1438.63,251.01 1446.33,258.4 1454.03,266.68 1461.74,276.27 1469.44,287 1477.14,298.7 1484.84,311.19 1492.55,324.31 1500.25,337.87 1507.95,351.71 1515.65,365.64 1523.36,379.5 1531.06,394.03 1538.76,409.85 1546.46,426.63 1554.17,444.07 1561.87,462.91 1569.57,482.96 1577.27,503.72 1584.98,525.26 1592.68,547.25 1600.38,569.3 1608.08,591.58 1615.79,614.25 1623.49,636.95 1631.19,659.32 1638.89,681 1646.6,703.34 1654.3,716.6 1662,719.74 1669.7,720.87 1677.41,723.7 1685.11,731.01 1692.81,734.19 1700.51,723.56 1708.22,708.95 1715.92,693 1723.62,675.36 1731.32,656.48 1739.03,636.81 1746.73,616.79 1754.43,596.9 1762.13,575.26 1769.84,552.75 1777.54,533.88 1785.24,519.28 1792.94,506.51 1800.65,494.48 1808.35,482.15 1816.05,469.42 1823.75,457.17 1831.46,446.3 1839.16,436.49 1846.86,426.85 1854.56,417.45 1862.27,408.35 1869.97,399.61 1877.67,391.3 1885.37,383.49 1893.08,376.22 1900.78,369.57 1908.48,363.6 1916.18,357.94 1923.89,352.42 1931.59,347.44 1939.29,343.38 1946.99,340.62 1954.7,339.11 1962.4,337.84 1970.1,336.77 1977.8,335.95 1985.51,335.4 1993.21,335.1 2000.91,334.98 2008.61,335.06 2016.32,335.36 2024.02,335.91 2031.72,337.03 2039.42,339.79 2047.13,343.78 2054.83,348.41 2062.53,353.1 2070.23,357.84 2077.94,362.98 2085.64,368.47 2093.34,374.28 2101.04,380.37 2108.75,386.7 2116.45,393.24 2124.15,399.94 2131.85,406.78 2139.56,413.7" fill="none" stroke="#37AD6B" stroke-width="11" stroke-linejoin="round"/>
<polygon points="367.98,652.8 346.28,615.3 389.68,615.3" fill="#0000FF"/>
<polygon points="445.01,445.7 423.31,408.2 466.71,408.2" fill="#0000FF"/>
<polygon points="522.03,334.7 500.33,297.2 543.73,297.2" fill="#0000FF"/>
<polygon points="599.06,278.7 577.36,241.2 620.76,241.2" fill="#0000FF"/>
<polygon points="676.08,280.4 654.38,242.9 697.78,242.9" fill="#0000FF"/>
<polygon points="753.11,329 731.41,291.5 774.81,291.5" fill="#0000FF"/>
<polygon points="830.13,436.5 808.43,399 851.83,399" fill="#0000FF"/>
<polygon points="907.16,611.97 885.46,574.47 928.86,574.47" fill="#0000FF"/>
<polygon points="984.18,678.73 962.48,641.23 1005.88,641.23" fill="#0000FF"/>
<polygon points="1061.21,494.8 1039.51,457.3 1082.91,457.3" fill="#0000FF"/>
<polygon points="1138.23,334.6 1116.53,297.1 1159.93,297.1" fill="#0000FF"/>
<polygon points="1215.26,246.5 1193.56,209 1236.96,209" fill="#0000FF"/>
<polygon points="1292.28,212.9 1270.58,175.4 1313.98,175.4" fill="#0000FF"/>
<polygon points="1369.31,225.6 1347.61,188.1 1391.01,188.1" fill="#0000FF"/>
<polygon points="1446.33,283.4 1424.63,245.9 1468.03,245.9" fill="#0000FF"/>
<polygon points="1523.36,404.5 1501.66,367 1545.06,367" fill="#0000FF"/>
<polygon points="1600.38,594.3 1578.68,556.8 1622.08,556.8" fill="#0000FF"/>
<polygon points="1677.41,748.7 1655.71,711.2 1699.11,711.2" fill="#0000FF"/>
<polygon points="1754.43,621.9 1732.73,584.4 1776.13,584.4" fill="#0000FF"/>
<polygon points="1831.46,471.3 1809.76,433.8 1853.16,433.8" fill="#0000FF"/>
<polygon points="1908.48,388.6 1886.78,351.1 1930.18,351.1" fill="#0000FF"/>
<polygon points="1985.51,360.4 1963.81,322.9 2007.21,322.9" fill="#0000FF"/>
<polygon points="2062.53,378.1 2040.83,340.6 2084.23,340.6" fill="#0000FF"/>
<polygon points="2139.56,438.7 2117.86,401.2 2161.26,401.2" fill="#0000FF"/>
<polyline points="352.58,698.03 367.98,648.8 375.68,624.18 383.39,599.81 391.09,575.87 398.79,552.57 406.49,530.11 414.2,508.67 421.9,488.46 429.6,469.69 437.3,452.53 445.01,437.2 452.71,422.92 460.41,408.88 468.11,395.23 475.82,382.09 483.52,369.6 491.22,357.91 498.92,347.15 506.63,337.45 514.33,328.95 522.03,321.8 529.73,315.43 537.44,309.23 545.14,303.24 552.84,297.48 560.54,291.99 568.25,286.82 575.95,282 583.65,277.57 591.35,273.55 599.06,270 606.76,266.58 614.46,263.19 622.16,260.24 629.87,258.12 637.57,257.16 645.27,257.13 652.97,257.78 660.68,258.91 668.38,260.35 676.08,261.9 683.78,263.73 691.49,266.1 699.19,268.97 706.89,272.3 714.59,276.06 722.3,280.19 730,284.67 737.7,289.46 745.4,294.51 753.11,299.8 760.81,306.02 768.51,313.77 776.21,322.85 783.92,333.06 791.62,344.18 799.32,356.03 807.02,368.38 814.73,381.05 822.43,393.82 830.13,406.5 837.83,419.73 845.54,434.13 853.24,449.46 860.94,465.45 868.64,481.86 876.35,498.88 884.05,517.26 891.75,535.5 899.45,552.64 907.16,570.6 914.86,583.87 922.56,597.81 930.26,610.32 937.97,622.26 945.67,634.25 953.37,636.78 961.07,639.26 968.78,632.81 976.48,631.72 984.18,628.9 991.88,621.16 999.59,605.88 1007.29,592.04 1014.99,581.34 1022.69,564.29 1030.4,547.29 1038.1,528.15 1045.8,507.88 1053.5,487.67 1061.21,468.7 1068.91,451 1076.61,433.86 1084.31,417.41 1092.02,401.75 1099.72,386.94 1107.42,372.44 1115.12,358.31 1122.83,344.87 1130.53,332.4 1138.23,321.2 1145.93,310.87 1153.64,300.8 1161.34,291.03 1169.04,281.56 1176.74,272.44 1184.45,263.66 1192.15,255.26 1199.85,247.25 1207.55,239.66 1215.26,232.5 1222.96,225.23 1230.66,217.74 1238.36,210.76 1246.07,205 1253.77,201.17 1261.47,199.62 1269.17,198.63 1276.88,197.84 1284.58,197.23 1292.28,196.8 1299.98,196.45 1307.69,196.14 1315.39,195.89 1323.09,195.74 1330.79,195.71 1338.5,196.36 1346.2,197.87 1353.9,199.96 1361.6,202.36 1369.31,204.8 1377.01,207.58 1384.71,211.12 1392.41,215.37 1400.12,220.26 1407.82,225.7 1415.52,231.65 1423.22,238.02 1430.93,244.75 1438.63,251.76 1446.33,259 1454.03,267.02 1461.74,276.32 1469.44,286.71 1477.14,298.01 1484.84,310.03 1492.55,322.59 1500.25,335.5 1507.95,348.58 1515.65,361.64 1523.36,374.5 1531.06,387.48 1538.76,401.19 1546.46,415.83 1554.17,431.63 1561.87,449.39 1569.57,470.79 1577.27,491.53 1584.98,510.62 1592.68,529.21 1600.38,547.6 1608.08,566.55 1615.79,586.23 1623.49,606.1 1631.19,625.59 1638.89,644.14 1646.6,661.2 1654.3,676.22 1662,688.88 1669.7,699.01 1677.41,703.5 1685.11,702.24 1692.81,697.89 1700.51,690.91 1708.22,681.18 1715.92,672.03 1723.62,665.13 1731.32,657.33 1739.03,644.51 1746.73,626.11 1754.43,606 1762.13,583.86 1769.84,559.92 1777.54,539.05 1785.24,523.94 1792.94,511.3 1800.65,499.87 1808.35,488.58 1816.05,476.79 1823.75,465.17 1831.46,454.5 1839.16,444.37 1846.86,434.02 1854.56,423.64 1862.27,413.46 1869.97,403.66 1877.67,394.45 1885.37,386.05 1893.08,378.65 1900.78,372.47 1908.48,367.7 1916.18,364.09 1923.89,361.09 1931.59,358.45 1939.29,355.92 1946.99,353.26 1954.7,350.13 1962.4,346.45 1970.1,342.84 1977.8,339.97 1985.51,338.5 1993.21,338.38 2000.91,338.96 2008.61,340.02 2016.32,341.3 2024.02,342.56 2031.72,343.65 2039.42,344.83 2047.13,346.19 2054.83,347.76 2062.53,349.6 2070.23,352.28 2077.94,356.22 2085.64,361.26 2093.34,367.23 2101.04,373.96 2108.75,381.29 2116.45,389.04 2124.15,397.06 2131.85,405.17 2139.56,413.2" fill="none" stroke="#B177DE" stroke-width="11" stroke-linejoin="round"/>
<polygon points="367.98,626.2 390.58,648.8 367.98,671.4 345.38,648.8" fill="#00FFFF"/>
<polygon points="445.01,414.6 467.61,437.2 445.01,459.8 422.41,437.2" fill="#00FFFF"/>
<polygon points="522.03,299.2 544.63,321.8 522.03,344.4 499.43,321.8" fill="#00FFFF"/>
<polygon points="599.06,247.4 621.66,270 599.06,292.6 576.46,270" fill="#00FFFF"/>
<polygon points="676.08,239.3 698.68,261.9 676.08,284.5 653.48,261.9" fill="#00FFFF"/>
<polygon points="753.11,277.2 775.71,299.8 753.11,322.4 730.51,299.8" fill="#00FFFF"/>
<polygon points="830.13,383.9 852.73,406.5 830.13,429.1 807.53,406.5" fill="#00FFFF"/>
<polygon points="907.16,548 929.76,570.6 907.16,593.2 884.56,570.6" fill="#00FFFF"/>
<polygon points="984.18,606.3 1006.78,628.9 984.18,651.5 961.58,628.9" fill="#00FFFF"/>
<polygon points="1061.21,446.1 1083.81,468.7 1061.21,491.3 1038.61,468.7" fill="#00FFFF"/>
<polygon points="1138.23,298.6 1160.83,321.2 1138.23,343.8 1115.63,321.2" fill="#00FFFF"/>
<polygon points="1215.26,209.9 1237.86,232.5 1215.26,255.1 1192.66,232.5" fill="#00FFFF"/>
<polygon points="1292.28,174.2 1314.88,196.8 1292.28,219.4 1269.68,196.8" fill="#00FFFF"/>
<polygon points="1369.31,182.2 1391.91,204.8 1369.31,227.4 1346.71,204.8" fill="#00FFFF"/>
<polygon points="1446.33,236.4 1468.93,259 1446.33,281.6 1423.73,259" fill="#00FFFF"/>
<polygon points="1523.36,351.9 1545.96,374.5 1523.36,397.1 1500.76,374.5" fill="#00FFFF"/>
<polygon points="1600.38,525 1622.98,547.6 1600.38,570.2 1577.78,547.6" fill="#00FFFF"/>
<polygon points="1677.41,680.9 1700.01,703.5 1677.41,726.1 1654.81,703.5" fill="#00FFFF"/>
<polygon points="1754.43,583.4 1777.03,606 1754.43,628.6 1731.83,606" fill="#00FFFF"/>
<polygon points="1831.46,431.9 1854.06,454.5 1831.46,477.1 1808.86,454.5" fill="#00FFFF"/>
<polygon points="1908.48,345.1 1931.08,367.7 1908.48,390.3 1885.88,367.7" fill="#00FFFF"/>
<polygon points="1985.51,315.9 2008.11,338.5 1985.51,361.1 1962.91,338.5" fill="#00FFFF"/>
<polygon points="2062.53,327 2085.13,349.6 2062.53,372.2 2039.93,349.6" fill="#00FFFF"/>
<polygon points="2139.56,390.6 2162.16,413.2 2139.56,435.8 2116.96,413.2" fill="#00FFFF"/>
<polyline points="352.58,708.67 367.98,660.5 375.68,636.41 383.39,612.58 391.09,589.17 398.79,566.37 406.49,544.33 414.2,523.24 421.9,503.27 429.6,484.59 437.3,467.38 445.01,451.8 452.71,437.22 460.41,422.95 468.11,409.08 475.82,395.72 483.52,382.96 491.22,370.91 498.92,359.67 506.63,349.34 514.33,340.01 522.03,331.8 529.73,324.03 537.44,316.1 545.14,308.21 552.84,300.55 560.54,293.33 568.25,286.73 575.95,280.97 583.65,276.22 591.35,272.7 599.06,270.6 606.76,269.36 614.46,268.3 622.16,267.41 629.87,266.67 637.57,266.07 645.27,265.55 652.97,265.1 660.68,264.75 668.38,264.51 676.08,264.4 683.78,264.88 691.49,266.31 699.19,268.6 706.89,271.63 714.59,275.31 722.3,279.54 730,284.2 737.7,289.2 745.4,294.43 753.11,299.8 760.81,306.04 768.51,313.8 776.21,322.85 783.92,332.97 791.62,343.92 799.32,355.46 807.02,367.38 814.73,379.42 822.43,391.38 830.13,403 837.83,414.55 845.54,426.51 853.24,438.99 860.94,452.11 868.64,465.97 876.35,480.69 884.05,497.15 891.75,517.44 899.45,536.93 907.16,552.36 914.86,570.6 922.56,586.26 930.26,602.73 937.97,613.43 945.67,623.55 953.37,628.9 961.07,624.79 968.78,618.2 976.48,615 984.18,614.1 991.88,612.52 999.59,599.58 1007.29,586.97 1014.99,576.9 1022.69,561.76 1030.4,545.43 1038.1,526.36 1045.8,505.76 1053.5,485.57 1061.21,467.7 1068.91,452.63 1076.61,439.1 1084.31,426.41 1092.02,413.87 1099.72,400.8 1107.42,386.44 1115.12,370.32 1122.83,353.68 1130.53,338.07 1138.23,325 1145.93,314 1153.64,303.55 1161.34,293.64 1169.04,284.24 1176.74,275.34 1184.45,266.93 1192.15,258.99 1199.85,251.5 1207.55,244.44 1215.26,237.8 1222.96,231.18 1230.66,224.51 1238.36,218.24 1246.07,212.85 1253.77,208.79 1261.47,206.31 1269.17,204.39 1276.88,202.73 1284.58,201.24 1292.28,199.8 1299.98,198.27 1307.69,196.69 1315.39,195.24 1323.09,194.1 1330.79,193.47 1338.5,194.24 1346.2,196.52 1353.9,199.77 1361.6,203.41 1369.31,206.9 1377.01,210.28 1384.71,214.01 1392.41,218.1 1400.12,222.56 1407.82,227.41 1415.52,232.68 1423.22,238.38 1430.93,244.52 1438.63,251.12 1446.33,258.2 1454.03,266.32 1461.74,275.86 1469.44,286.57 1477.14,298.21 1484.84,310.54 1492.55,323.32 1500.25,336.3 1507.95,349.23 1515.65,361.88 1523.36,374 1531.06,385.42 1538.76,396.5 1546.46,407.8 1554.17,419.87 1561.87,433.27 1569.57,449.41 1577.27,470.6 1584.98,491.63 1592.68,511.64 1600.38,530.3 1608.08,547.28 1615.79,563.67 1623.49,579.6 1631.19,595.16 1638.89,610.47 1646.6,625.65 1654.3,640.79 1662,656.03 1669.7,671.85 1677.41,686.2 1685.11,697.62 1692.81,705.28 1700.51,704.58 1708.22,694.54 1715.92,679.7 1723.62,664.81 1731.32,649.31 1739.03,634.6 1746.73,620.33 1754.43,605.4 1762.13,588.79 1769.84,571.07 1777.54,553.51 1785.24,537.4 1792.94,523.73 1800.65,511.77 1808.35,500.15 1816.05,487.5 1823.75,472.12 1831.46,458 1839.16,447.09 1846.86,436.58 1854.56,426.52 1862.27,416.93 1869.97,407.85 1877.67,399.33 1885.37,391.4 1893.08,384.09 1900.78,377.45 1908.48,371.5 1916.18,365.91 1923.89,360.5 1931.59,355.54 1939.29,351.32 1946.99,348.12 1954.7,345.85 1962.4,343.72 1970.1,341.86 1977.8,340.49 1985.51,339.8 1993.21,339.69 2000.91,339.89 2008.61,340.34 2016.32,341 2024.02,341.83 2031.72,342.91 2039.42,344.67 2047.13,347 2054.83,349.73 2062.53,352.7 2070.23,356.09 2077.94,360.15 2085.64,364.79 2093.34,369.93 2101.04,375.5 2108.75,381.42 2116.45,387.61 2124.15,393.98 2131.85,400.48 2139.56,407" fill="none" stroke="#CC9900" stroke-width="11" stroke-linejoin="round"/>
<polygon points="342.98,660.5 380.48,638.8 380.48,682.2" fill="#FF00FF"/>
<polygon points="420.01,451.8 457.51,430.1 457.51,473.5" fill="#FF00FF"/>
<polygon points="497.03,331.8 534.53,310.1 534.53,353.5" fill="#FF00FF"/>
<polygon points="574.06,270.6 611.56,248.9 611.56,292.3" fill="#FF00FF"/>
<polygon points="651.08,264.4 688.58,242.7 688.58,286.1" fill="#FF00FF"/>
<polygon points="728.11,299.8 765.61,278.1 765.61,321.5" fill="#FF00FF"/>
<polygon points="805.13,403 842.63,381.3 842.63,424.7" fill="#FF00FF"/>
<polygon points="882.16,552.36 919.66,530.66 919.66,574.06" fill="#FF00FF"/>
<polygon points="959.18,614.1 996.68,592.4 996.68,635.8" fill="#FF00FF"/>
<polygon points="1036.21,467.7 1073.71,446 1073.71,489.4" fill="#FF00FF"/>
<polygon points="1113.23,325 1150.73,303.3 1150.73,346.7" fill="#FF00FF"/>
<polygon points="1190.26,237.8 1227.76,216.1 1227.76,259.5" fill="#FF00FF"/>
<polygon points="1267.28,199.8 1304.78,178.1 1304.78,221.5" fill="#FF00FF"/>
<polygon points="1344.31,206.9 1381.81,185.2 1381.81,228.6" fill="#FF00FF"/>
<polygon points="1421.33,258.2 1458.83,236.5 1458.83,279.9" fill="#FF00FF"/>
<polygon points="1498.36,374 1535.86,352.3 1535.86,395.7" fill="#FF00FF"/>
<polygon points="1575.38,530.3 1612.88,508.6 1612.88,552" fill="#FF00FF"/>
<polygon points="1652.41,686.2 1689.91,664.5 1689.91,707.9" fill="#FF00FF"/>
<polygon points="1729.43,605.4 1766.93,583.7 1766.93,627.1" fill="#FF00FF"/>
<polygon points="1806.46,458 1843.96,436.3 1843.96,479.7" fill="#FF00FF"/>
<polygon points="1883.48,371.5 1920.98,349.8 1920.98,393.2" fill="#FF00FF"/>
<polygon points="1960.51,339.8 1998.01,318.1 1998.01,361.5" fill="#FF00FF"/>
<polygon points="2037.53,352.7 2075.03,331 2075.03,374.4" fill="#FF00FF"/>
<polygon points="2114.56,407 2152.06,385.3 2152.06,428.7" fill="#FF00FF"/>
</g>
<g id="zoombox" stroke="#060606" fill="none">
<path d="M1056 598L1605 826" stroke-width="7.5"/>
<path d="M857.5 801.5L1261 1396" stroke-width="7.5"/>
<g stroke-width="10.8" stroke-dasharray="57.4 17.4 16.8 19.3">
<path d="M852.2 598H1055.2"/>
<path d="M852.2 801.5H1055.2"/>
<path d="M857.5 592.5V807"/>
<path d="M1056 616.2V784"/>
</g>
</g>
<g id="main-legend" font-family="'Liberation Sans', Arial, Helvetica, sans-serif">
<rect x="402" y="939.2" width="395.3" height="510.8" fill="#fff" stroke="#000" stroke-width="3.8"/>
<path d="M412 986H564.4" stroke="#515151" stroke-width="11.6" stroke-linecap="round" fill="none"/>
<rect x="472" y="970.4" width="31.2" height="31.2" fill="#000000"/>
<text x="584.5" y="1009.3" font-size="67.7" fill="#000">0 min</text>
<path d="M412 1069.52H564.4" stroke="#F14040" stroke-width="11.6" stroke-linecap="round" fill="none"/>
<circle cx="487.6" cy="1069.52" r="17.4" fill="#FF0000"/>
<text x="584.5" y="1092.82" font-size="67.7" fill="#000">10 min</text>
<path d="M412 1153.04H564.4" stroke="#1A6FDF" stroke-width="11.6" stroke-linecap="round" fill="none"/>
<polygon points="487.6,1128.04 465.9,1165.54 509.3,1165.54" fill="#00FF00"/>
<text x="584.5" y="1176.34" font-size="67.7" fill="#000">20 min</text>
<path d="M412 1236.56H564.4" stroke="#37AD6B" stroke-width="11.6" stroke-linecap="round" fill="none"/>
<polygon points="487.6,1261.56 465.9,1224.06 509.3,1224.06" fill="#0000FF"/>
<text x="584.5" y="1259.86" font-size="67.7" fill="#000">30 min</text>
<path d="M412 1320.08H564.4" stroke="#B177DE" stroke-width="11.6" stroke-linecap="round" fill="none"/>
<polygon points="487.6,1297.48 510.2,1320.08 487.6,1342.68 465,1320.08" fill="#00FFFF"/>
<text x="584.5" y="1343.38" font-size="67.7" fill="#000">40 min</text>
<path d="M412 1403.6H564.4" stroke="#CC9900" stroke-width="11.6" stroke-linecap="round" fill="none"/>
<polygon points="462.6,1403.6 500.1,1381.9 500.1,1425.3" fill="#FF00FF"/>
<text x="584.5" y="1426.9" font-size="67.7" fill="#000">50 min</text>
</g>
</svg>
</body>
</html>
